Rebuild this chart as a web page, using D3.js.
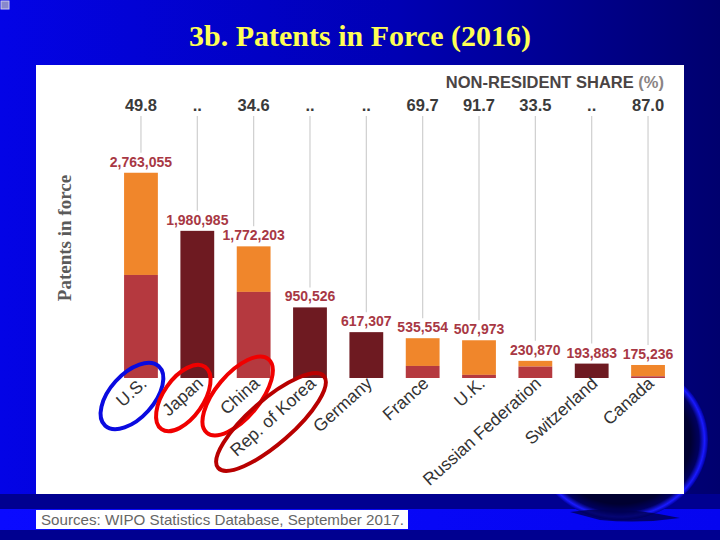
<!DOCTYPE html>
<html><head><meta charset="utf-8">
<script src="https://cdn.jsdelivr.net/npm/d3@7"></script>
<style>html,body{margin:0;padding:0;background:#000080;}svg{display:block;}</style>
</head><body>
<svg id="chart" width="720" height="540"></svg>
<script>
// ---- data ----
const countries = ["U.S.","Japan","China","Rep. of Korea","Germany","France","U.K.","Russian Federation","Switzerland","Canada"];
const totals = [2763055,1980985,1772203,950526,617307,535554,507973,230870,193883,175236];
const nonResidentShare = [49.8,null,34.6,null,null,69.7,91.7,33.5,null,87.0];
const totalLabels = ["2,763,055","1,980,985","1,772,203","950,526","617,307","535,554","507,973","230,870","193,883","175,236"];
const shareLabels = ["49.8","..","34.6","..","..","69.7","91.7","33.5","..","87.0"];
const circled = [{c:"U.S.",color:"#0a0ae0"},{c:"Japan",color:"#f00000"},{c:"China",color:"#f00000"},{c:"Rep. of Korea",color:"#b80000"}];

const svg = d3.select("#chart");
const defs = svg.append("defs");
const g1 = defs.append("linearGradient").attr("id","bg").attr("x1","0").attr("x2","1").attr("y1","0").attr("y2","0");
g1.append("stop").attr("offset","0").attr("stop-color","#0303e6");
g1.append("stop").attr("offset","0.55").attr("stop-color","#0000b4");
g1.append("stop").attr("offset","1").attr("stop-color","#00006e");
const g2 = defs.append("linearGradient").attr("id","band").attr("x1","0").attr("x2","1");
g2.append("stop").attr("offset","0").attr("stop-color","#0a0aff");
g2.append("stop").attr("offset","1").attr("stop-color","#0505f0");
const rg = defs.append("radialGradient").attr("id","ring");
rg.append("stop").attr("offset","0.8").attr("stop-color","#000030");
rg.append("stop").attr("offset","0.9").attr("stop-color","#000060");
rg.append("stop").attr("offset","0.96").attr("stop-color","#1a1aff");
rg.append("stop").attr("offset","1").attr("stop-color","#0000a0");

// ---- slide background ----
svg.append("rect").attr("width",720).attr("height",540).attr("fill","url(#bg)");
svg.append("rect").attr("x",0).attr("y",494).attr("width",720).attr("height",46).attr("fill","#000090");
svg.append("rect").attr("x",0).attr("y",509).attr("width",720).attr("height",21).attr("fill","url(#band)");
svg.append("ellipse").attr("cx",620).attr("cy",440).attr("rx",88).attr("ry",80).attr("fill","url(#ring)");
svg.append("path").attr("d","M570,512 Q620,505 680,518 Q640,524 600,520 Z").attr("fill","#000050").attr("opacity",0.8);
svg.append("rect").attr("x",1).attr("y",1).attr("width",8).attr("height",8).attr("fill","#8888cc").attr("stroke","#ccccee").attr("stroke-width",1);

// title
svg.append("text").attr("x",360).attr("y",46).attr("text-anchor","middle")
  .attr("font-family","'Liberation Serif','Times New Roman',serif").attr("font-weight","bold")
  .attr("font-size",30).attr("fill","#ffff55").attr("textLength",342).attr("lengthAdjust","spacingAndGlyphs")
  .text("3b. Patents in Force (2016)");

// white chart panel
svg.append("rect").attr("x",36).attr("y",65).attr("width",648).attr("height",429).attr("fill","#ffffff");

// ---- scales ----
const x = d3.scaleBand().domain(countries).range([112.8,676.2]).paddingInner(0.4).paddingOuter(0.2);
const y = d3.scaleLinear().domain([0,2800000]).range([378,170]);
const bw = x.bandwidth();
const cx = c => x(c) + bw/2;

const data = countries.map((c,i)=>({
  c, total: totals[i], share: nonResidentShare[i],
  resident: nonResidentShare[i]==null ? null : totals[i]*(1-nonResidentShare[i]/100),
  tl: totalLabels[i], sl: shareLabels[i]
}));

// header
const hdr = svg.append("text").attr("x",664).attr("y",88).attr("text-anchor","end")
  .attr("font-family","'Liberation Sans',Arial,sans-serif").attr("font-weight","bold").attr("font-size",16.5).attr("fill","#4a4444");
hdr.append("tspan").text("NON-RESIDENT SHARE ");
hdr.append("tspan").attr("fill","#8a8484").text("(%)");

// guide lines
svg.append("g").selectAll("line").data(data).join("line")
  .attr("x1",d=>cx(d.c)).attr("x2",d=>cx(d.c))
  .attr("y1",116).attr("y2",d=>y(d.total)-20)
  .attr("stroke","#cfcfcf").attr("stroke-width",1.2);

// share labels
svg.append("g").selectAll("text").data(data).join("text")
  .attr("x",d=>cx(d.c)).attr("y",111).attr("text-anchor","middle")
  .attr("font-family","'Liberation Sans',Arial,sans-serif").attr("font-weight","bold").attr("font-size",16.5)
  .attr("fill","#3a3a3a").text(d=>d.sl);

// bars
const bars = svg.append("g");
data.forEach(d=>{
  if(d.share==null){
    bars.append("rect").attr("x",x(d.c)).attr("width",bw).attr("y",y(d.total)).attr("height",y(0)-y(d.total)).attr("fill","#6e1a21");
  } else {
    bars.append("rect").attr("x",x(d.c)).attr("width",bw).attr("y",y(d.total)).attr("height",y(d.resident)-y(d.total)).attr("fill","#f0862b");
    bars.append("rect").attr("x",x(d.c)).attr("width",bw).attr("y",y(d.resident)).attr("height",y(0)-y(d.resident)).attr("fill","#b5393f");
  }
});

// total labels
svg.append("g").selectAll("text").data(data).join("text")
  .attr("x",d=>cx(d.c)).attr("y",d=>y(d.total)-6).attr("text-anchor","middle")
  .attr("font-family","'Liberation Sans',Arial,sans-serif").attr("font-weight","bold").attr("font-size",14)
  .attr("fill","#a83844").text(d=>d.tl);

// category labels
svg.append("g").selectAll("text").data(data).join("text")
  .attr("transform",d=>`translate(${cx(d.c)+7},${385}) rotate(-42)`).attr("text-anchor","end")
  .attr("font-family","'Liberation Sans',Arial,sans-serif").attr("font-size",17.5)
  .attr("fill","#333333").text(d=>d.c);

// y axis title
svg.append("text").attr("transform","translate(71,238) rotate(-90)").attr("text-anchor","middle")
  .attr("font-family","'Liberation Serif','Times New Roman',serif").attr("font-weight","bold").attr("font-size",19)
  .attr("fill","#5a5a5a").text("Patents in force");

// annotation ellipses
const ell = {"U.S.":{dx:-9,dy:396,a:40,b:22,r:-48},"Japan":{dx:-14,dy:398,a:38,b:20,r:-55},"China":{dx:-16,dy:396,a:48,b:22,r:-50},"Rep. of Korea":{dx:-39,dy:422,a:70,b:22,r:-41}};
svg.append("g").selectAll("ellipse").data(circled).join("ellipse")
  .attr("transform",d=>`translate(${cx(d.c)+ell[d.c].dx},${ell[d.c].dy}) rotate(${ell[d.c].r})`)
  .attr("rx",d=>ell[d.c].a).attr("ry",d=>ell[d.c].b)
  .attr("fill","none").attr("stroke",d=>d.color).attr("stroke-width",4);

// source
svg.append("rect").attr("x",36).attr("y",510).attr("width",372).attr("height",19).attr("fill","#ffffff");
svg.append("text").attr("x",41).attr("y",525).attr("font-family","'Liberation Sans',Arial,sans-serif").attr("font-size",15)
  .attr("fill","#666666").attr("textLength",363).attr("lengthAdjust","spacingAndGlyphs")
  .text("Sources: WIPO Statistics Database, September 2017.");
</script>
</body></html>
